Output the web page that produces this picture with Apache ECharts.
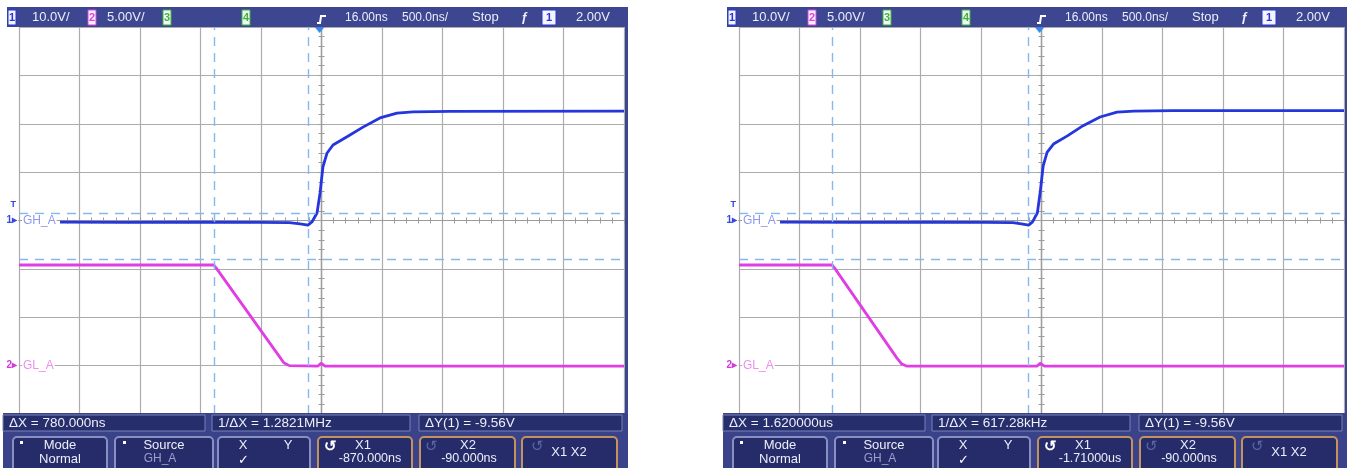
<!DOCTYPE html>
<html>
<head>
<meta charset="utf-8">
<script src="https://cdn.jsdelivr.net/npm/echarts@6/dist/echarts.min.js"></script>
<style>
  html, body { margin: 0; padding: 0; background: #fff; }
  #scope { width: 1347px; height: 468px; }
</style>
</head>
<body>
<div id="scope"></div>
<script>
// Acquisition settings shared by both captures
const DELAY_NS = 16;            // horizontal delay: screen centre sits at +16 ns
const TIME_PER_DIV = 500;       // ns per division
const CH1_RANGE = [-40, 40];    // 10 V/div, ground at centre
const CH2_RANGE = [-5, 35];     // 5 V/div, ground one division above bottom
const TRIG_LEVEL = 2.0;         // V on channel 1

// Status bar and labels
const statusLabels = ['10.0V/', '5.00V/', '16.00ns', '500.0ns/', 'Stop', '2.00V'];
const channelNames = ['GH_A', 'GL_A'];

// Capture 1: GH_A (ch1) and GL_A (ch2), time in ns from trigger, volts
const ghTime1  = [-2145, -1600, -1000, -500, -250, -160, -96, -63, -21, 4, 28, 61, 111, 227, 359, 499, 640, 772, 1078, 2516];
const ghVolts1 = [-0.35, -0.4, -0.35, -0.4, -0.45, -0.7, -0.95, -0.3, 1.55, 5.7, 11.1, 13.9, 15.6, 17.3, 19.3, 21.2, 22.2, 22.45, 22.55, 22.6];
const glTime1  = [-2484, -875, -855, -330, -296, -250, -13, 12, 45, 2516];
const glVolts1 = [10.4, 10.4, 10.1, 0.9, 0.3, 0.0, -0.05, 0.25, -0.05, -0.05];
const cursorX1 = [-870, -90];
const cursorY1 = [1.50, -8.06];
const readout1 = ['ΔX = 780.000ns', '1/ΔX = 1.2821MHz', 'ΔY(1) = -9.56V'];
const buttonVals1 = ['-870.000ns', '-90.000ns'];

// Capture 2
const ghTime2  = [-2145, -1500, -900, -450, -220, -150, -90, -58, -18, 6, 30, 62, 115, 230, 360, 500, 640, 780, 1100, 2516];
const ghVolts2 = [-0.35, -0.4, -0.35, -0.4, -0.45, -0.7, -0.95, -0.3, 1.6, 6.0, 11.3, 14.1, 15.8, 17.5, 19.6, 21.4, 22.4, 22.6, 22.7, 22.7];
const glTime2  = [-2484, -1715, -1695, -1180, -1142, -1100, -20, 5, 40, 2516];
const glVolts2 = [10.4, 10.4, 10.1, 0.8, 0.2, -0.05, -0.05, 0.25, -0.05, -0.05];
const cursorX2 = [-1710, -90];
const cursorY2 = [1.50, -8.06];
const readout2 = ['ΔX = 1.620000us', '1/ΔX = 617.28kHz', 'ΔY(1) = -9.56V'];
const buttonVals2 = ['-1.71000us', '-90.000ns'];

const captures = [
  { off: 0,   gh: [ghTime1, ghVolts1], gl: [glTime1, glVolts1], cx: cursorX1, cy: cursorY1, readout: readout1, btn: buttonVals1 },
  { off: 720, gh: [ghTime2, ghVolts2], gl: [glTime2, glVolts2], cx: cursorX2, cy: cursorY2, readout: readout2, btn: buttonVals2 }
];

const BLUE = '#2436dc', MAGENTA = '#e03ee4', CURSOR = '#86b8ec';
const GRIDLINE = '#acacac', CENTRE = '#9c9c9c';
const BAR = '#3d4690', TXT = '#eceef8', FONT = '"Liberation Sans", Arial, sans-serif';
const HALF_SPAN = TIME_PER_DIV * 5;

const chart = echarts.init(document.getElementById('scope'), null, { renderer: 'canvas' });

const grids = [], xAxes = [], yAxes = [], series = [];

const zip = (ts, vs) => ts.map((t, k) => [t - DELAY_NS, vs[k]]);

captures.forEach((c, s) => {
  const rect = { left: 19 + c.off, top: 27, width: 605, height: 387 };
  grids.push(Object.assign({}, rect), Object.assign({}, rect));

  // time axes: grid lines plus centre graticule with ticks on both sides
  const xBase = {
    type: 'value', min: -HALF_SPAN, max: HALF_SPAN, interval: TIME_PER_DIV,
    axisLabel: { show: false },
    minorTick: { show: true, splitNumber: 5, length: 3, lineStyle: { color: CENTRE } },
    axisTick: { show: true, length: 3, lineStyle: { color: CENTRE } },
    axisLine: { show: true, onZero: true, lineStyle: { color: CENTRE, width: 1.2 } }
  };
  xAxes.push(Object.assign({}, xBase, {
    gridIndex: 2 * s,
    axisLine: Object.assign({}, xBase.axisLine, { onZeroAxisIndex: 3 * s }),
    splitLine: { show: true, lineStyle: { color: GRIDLINE, width: 1.2 } }
  }));
  xAxes.push(Object.assign({}, xBase, {
    gridIndex: 2 * s + 1,
    axisLine: Object.assign({}, xBase.axisLine, { onZeroAxisIndex: 3 * s + 2 }),
    axisTick: Object.assign({}, xBase.axisTick, { inside: true }),
    splitLine: { show: false }
  }));

  const yBase = {
    type: 'value', min: CH1_RANGE[0], max: CH1_RANGE[1], interval: 10,
    axisLabel: { show: false },
    minorTick: { show: true, splitNumber: 5, length: 3, lineStyle: { color: CENTRE } },
    axisTick: { show: true, length: 3, lineStyle: { color: CENTRE } },
    axisLine: { show: true, onZero: true, lineStyle: { color: CENTRE, width: 1.2 } }
  };
  yAxes.push(Object.assign({}, yBase, {
    gridIndex: 2 * s,
    axisLine: Object.assign({}, yBase.axisLine, { onZeroAxisIndex: 2 * s }),
    splitLine: { show: true, lineStyle: { color: GRIDLINE, width: 1.2 } }
  }));
  yAxes.push({
    type: 'value', gridIndex: 2 * s, min: CH2_RANGE[0], max: CH2_RANGE[1], interval: 5,
    show: false, axisLine: { onZero: false }, splitLine: { show: false }
  });
  yAxes.push(Object.assign({}, yBase, {
    gridIndex: 2 * s + 1,
    axisLine: Object.assign({}, yBase.axisLine, { onZeroAxisIndex: 2 * s + 1 }),
    axisTick: Object.assign({}, yBase.axisTick, { inside: true }),
    splitLine: { show: false }
  }));

  series.push({
    type: 'line', name: channelNames[1], xAxisIndex: 2 * s, yAxisIndex: 3 * s + 1,
    data: zip(c.gl[0], c.gl[1]), showSymbol: false, symbol: 'none',
    lineStyle: { color: MAGENTA, width: 2.8 }, z: 3, animation: false
  });
  series.push({
    type: 'line', name: channelNames[0], xAxisIndex: 2 * s, yAxisIndex: 3 * s,
    data: zip(c.gh[0], c.gh[1]), showSymbol: false, symbol: 'none',
    lineStyle: { color: BLUE, width: 2.8 }, z: 4, animation: false,
    markLine: {
      silent: true, symbol: 'none', animation: false,
      label: { show: false },
      lineStyle: { color: CURSOR, width: 1.4, type: [9, 7] },
      data: [
        { xAxis: c.cx[0] - DELAY_NS }, { xAxis: c.cx[1] - DELAY_NS },
        { yAxis: c.cy[0] }, { yAxis: c.cy[1] }
      ]
    }
  });
});

chart.setOption({
  backgroundColor: '#ffffff',
  animation: false,
  grid: grids, xAxis: xAxes, yAxis: yAxes, series: series
});

// ---- instrument chrome: status bar, channel markers, cursor readouts ----
function text(x, y, s, o) {
  o = o || {};
  return {
    type: 'text', z: 120, x: x, y: y,
    style: {
      text: s, fill: o.fill || TXT,
      font: (o.weight || 'normal') + ' ' + (o.size || 12) + 'px ' + FONT,
      textAlign: o.align || 'left', align: o.align || 'left',
      textVerticalAlign: 'middle', verticalAlign: 'middle',
      backgroundColor: o.bg, padding: o.pad
    }
  };
}
function rect(x, y, w, h, fill, stroke, lw, r) {
  return { type: 'rect', z: 110, shape: { x: x, y: y, width: w, height: h, r: r || 0 },
           style: { fill: fill, stroke: stroke || null, lineWidth: lw || 0 } };
}
function chBox(x, num, color, w) {
  return [rect(x, 10, w || 8, 15, '#f4f4fa', color, 1), text(x + (w || 8) / 2, 18, num, { fill: color, align: 'center', size: 11, weight: 'bold' })];
}

const gfx = [];
captures.forEach((c, s) => {
  const o = c.off;
  // top status bar
  gfx.push(rect(o + 7, 7, 621, 20, BAR));
  gfx.push(rect(o + 625, 7, 3, 461, BAR));
  gfx.push(...chBox(o + 8, '1', BLUE));
  gfx.push(text(o + 32, 17.5, statusLabels[0], { size: 13 }));
  gfx.push(...chBox(o + 88, '2', MAGENTA));
  gfx.push(text(o + 107, 17.5, statusLabels[1], { size: 13 }));
  gfx.push(...chBox(o + 163, '3', '#38b838'));
  gfx.push(...chBox(o + 242, '4', '#38b838'));
  gfx.push({ type: 'polyline', z: 120, shape: { points: [[o + 317, 23], [o + 320, 23], [o + 321, 16], [o + 326, 16]] },
             style: { stroke: '#ffffff', lineWidth: 2, fill: null } });
  gfx.push(text(o + 345, 17.5, statusLabels[2]));
  gfx.push(text(o + 402, 17.5, statusLabels[3]));
  gfx.push(text(o + 472, 17.5, statusLabels[4], { size: 13 }));
  gfx.push(text(o + 521, 17.5, 'ƒ', { size: 13, weight: 'bold' }));
  gfx.push(...chBox(o + 542, '1', BLUE, 14));
  gfx.push(text(o + 576, 17.5, statusLabels[5], { size: 13 }));

  // trigger position marker and channel ground markers
  const xa = 2 * s, ya1 = 3 * s, ya2 = 3 * s + 1;
  const trig = chart.convertToPixel({ xAxisIndex: xa, yAxisIndex: ya1 }, [0 - DELAY_NS, CH1_RANGE[1]]);
  gfx.push({ type: 'polygon', z: 120, shape: { points: [[trig[0] - 5, trig[1]], [trig[0] + 5, trig[1]], [trig[0], trig[1] + 6]] },
             style: { fill: '#3b8be6' } });
  const g1 = chart.convertToPixel({ xAxisIndex: xa, yAxisIndex: ya1 }, [-HALF_SPAN, 0]);
  const tl = chart.convertToPixel({ xAxisIndex: xa, yAxisIndex: ya1 }, [-HALF_SPAN, TRIG_LEVEL]);
  const g2 = chart.convertToPixel({ xAxisIndex: xa, yAxisIndex: ya2 }, [-HALF_SPAN, 0]);
  gfx.push(text(g1[0] + 3, g1[1], channelNames[0], { fill: '#8c97ee', size: 12, bg: '#ffffff', pad: [0, 1] }));
  gfx.push(text(g2[0] + 3, g2[1], channelNames[1], { fill: '#f08cf0', size: 12, bg: '#ffffff', pad: [0, 1] }));
  gfx.push(text(g1[0] - 2, g1[1], '1▸', { fill: '#3646e0', size: 10, align: 'right', weight: 'bold' }));
  gfx.push(text(tl[0] - 3, tl[1] - 6, 'T', { fill: '#3646e0', size: 9, align: 'right', weight: 'bold' }));
  gfx.push(text(g2[0] - 2, g2[1], '2▸', { fill: '#d83ad8', size: 10, align: 'right', weight: 'bold' }));

  // bottom readout and softkey area
  gfx.push(rect(o + 3, 413, 625, 55, '#3a4289'));
  const boxes = [[3, 205], [212, 410], [419, 622]];
  boxes.forEach((b, i) => {
    gfx.push(rect(o + b[0], 415, b[1] - b[0], 16, '#272e6c', '#7880b8', 1));
    gfx.push(text(o + b[0] + 6, 423.5, c.readout[i], { size: 13.5 }));
  });
  const keys = [[13, 107], [115, 213], [218, 310], [318, 412], [420, 515], [522, 617]];
  keys.forEach((k, i) => {
    gfx.push(rect(o + k[0], 437, k[1] - k[0], 40, '#262c6a', i < 3 ? '#8990bf' : '#c4925c', 2, 4));
  });
  const cx = k => o + (k[0] + k[1]) / 2;
  gfx.push(rect(o + 20, 441, 3, 3, '#ffffff'));
  gfx.push(text(cx(keys[0]), 445, 'Mode', { align: 'center', size: 13 }));
  gfx.push(text(cx(keys[0]), 459, 'Normal', { align: 'center', size: 13 }));
  gfx.push(rect(o + 123, 441, 3, 3, '#ffffff'));
  gfx.push(text(cx(keys[1]), 445, 'Source', { align: 'center', size: 13 }));
  gfx.push(text(cx(keys[1]) - 4, 459, channelNames[0], { align: 'center', size: 12, fill: '#9aa0cc' }));
  gfx.push(text(o + 243, 445, 'X', { align: 'center', size: 13 }));
  gfx.push(text(o + 288, 445, 'Y', { align: 'center', size: 13 }));
  gfx.push(text(o + 243, 460, '✓', { align: 'center', size: 13, fill: '#ffffff' }));
  gfx.push(text(o + 330, 447, '↺', { align: 'center', size: 15, fill: '#ffffff', weight: 'bold' }));
  gfx.push(text(o + 363, 445, 'X1', { align: 'center', size: 13 }));
  gfx.push(text(o + 370, 459, c.btn[0], { align: 'center', size: 12.5 }));
  gfx.push(text(o + 431, 447, '↺', { align: 'center', size: 15, fill: '#5c64a6' }));
  gfx.push(text(o + 468, 445, 'X2', { align: 'center', size: 13 }));
  gfx.push(text(o + 469, 459, c.btn[1], { align: 'center', size: 12.5 }));
  gfx.push(text(o + 537, 447, '↺', { align: 'center', size: 15, fill: '#5c64a6' }));
  gfx.push(text(o + 569, 452, 'X1 X2', { align: 'center', size: 13 }));
});

chart.setOption({ graphic: { elements: gfx } });
</script>
</body>
</html>
